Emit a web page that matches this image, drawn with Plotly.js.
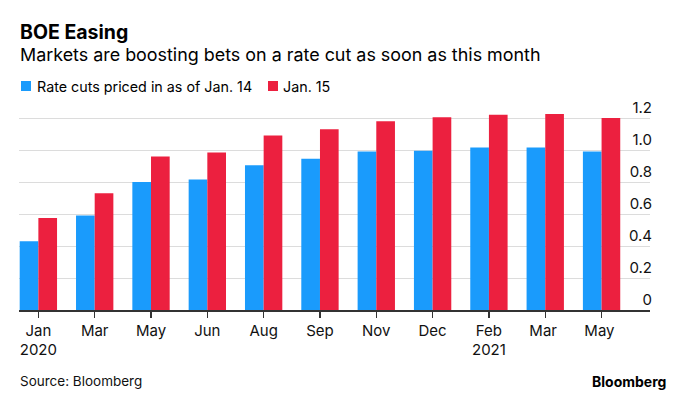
<!DOCTYPE html>
<html>
<head>
<meta charset="utf-8">
<script src="https://cdn.plot.ly/plotly-3.0.1.min.js"></script>
<style>
  html, body { margin: 0; padding: 0; background: #fff; }
  #chart { width: 680px; height: 395px; }
</style>
</head>
<body>
<div id="chart"></div>
<script>
// ---- data ----
const categories = ["Jan<br>2020", "Mar", "May", "Jun", "Aug", "Sep", "Nov", "Dec", "Feb<br>2021", "Mar ", "May "];
const seriesNames = ["Rate cuts priced in as of Jan. 14", "Jan. 15"];
const jan14 = [0.43, 0.59, 0.80, 0.815, 0.905, 0.945, 0.99, 0.995, 1.015, 1.015, 0.99];
const jan15 = [0.575, 0.73, 0.96, 0.985, 1.09, 1.13, 1.18, 1.205, 1.22, 1.225, 1.20];
const yTickVals = [0, 0.2, 0.4, 0.6, 0.8, 1.0, 1.2];
const yTickText = ["0", "0.2", "0.4", "0.6", "0.8", "1.0", "1.2"];

// ---- style ----
const BLUE = "#1a9bfc";
const RED = "#ec203f";
const FONT = "Inter, 'Liberation Sans', Arial, sans-serif";

const W = 680, H = 395;
const M = { l: 19, r: 30, t: 90, b: 85 };
const plotW = W - M.l - M.r, plotH = H - M.t - M.b;
const px2x = px => (px - M.l) / plotW;
const px2y = py => (H - M.b - py) / plotH;

const traces = [
  { type: "bar", name: seriesNames[0], x: categories, y: jan14,
    marker: { color: BLUE }, hoverinfo: "y" },
  { type: "bar", name: seriesNames[1], x: categories, y: jan15,
    marker: { color: RED }, hoverinfo: "y" }
];

const layout = {
  width: W, height: H,
  margin: M,
  paper_bgcolor: "#fff", plot_bgcolor: "#fff",
  font: { family: FONT, size: 15, color: "#000" },
  showlegend: false,
  barmode: "group",
  bargap: 0.337,
  bargroupgap: 0,
  xaxis: {
    type: "category",
    range: [-0.344, 10.86],
    showgrid: false, zeroline: false,
    showline: true, linecolor: "#333", linewidth: 1.5,
    ticks: "outside", ticklen: 6, tickwidth: 1.5, tickcolor: "#333",
    tickfont: { family: FONT, size: 15, color: "#111" },
    fixedrange: true
  },
  yaxis: {
    range: [0, plotH / 160],
    side: "right",
    tickmode: "array", tickvals: yTickVals, ticktext: yTickText,
    ticklabelposition: "inside top",
    ticklabelstandoff: -5,
    showgrid: true, gridcolor: "#dcdcdc", gridwidth: 1,
    zeroline: false, showline: false, ticks: "",
    tickfont: { family: FONT, size: 15, color: "#111" },
    fixedrange: true
  },
  shapes: [
    { type: "rect", xref: "paper", yref: "paper",
      x0: px2x(21), x1: px2x(31), y0: px2y(91), y1: px2y(81),
      fillcolor: BLUE, line: { width: 0 } },
    { type: "rect", xref: "paper", yref: "paper",
      x0: px2x(268), x1: px2x(278), y0: px2y(91), y1: px2y(81),
      fillcolor: RED, line: { width: 0 } }
  ],
  annotations: [
    { text: "<b>BOE Easing</b>",
      xref: "paper", yref: "paper", x: px2x(18), y: px2y(31.5),
      xanchor: "left", yanchor: "middle", showarrow: false,
      font: { family: FONT, size: 19.5, color: "#000" } },
    { text: "Markets are boosting bets on a rate cut as soon as this month",
      xref: "paper", yref: "paper", x: px2x(18), y: px2y(54),
      xanchor: "left", yanchor: "middle", showarrow: false,
      font: { family: FONT, size: 17.9, color: "#000" } },
    { text: seriesNames[0],
      xref: "paper", yref: "paper", x: px2x(35), y: px2y(86),
      xanchor: "left", yanchor: "middle", showarrow: false,
      font: { family: FONT, size: 14.3, color: "#000" } },
    { text: seriesNames[1],
      xref: "paper", yref: "paper", x: px2x(281), y: px2y(86),
      xanchor: "left", yanchor: "middle", showarrow: false,
      font: { family: FONT, size: 14.3, color: "#000" } },
    { text: "Source: Bloomberg",
      xref: "paper", yref: "paper", x: px2x(18), y: px2y(381),
      xanchor: "left", yanchor: "middle", showarrow: false,
      font: { family: FONT, size: 13.5, color: "#111" } },
    { text: "<b>Bloomberg</b>",
      xref: "paper", yref: "paper", x: px2x(668), y: px2y(381),
      xanchor: "right", yanchor: "middle", showarrow: false,
      font: { family: FONT, size: 14, color: "#000" } }
  ]
};

Plotly.newPlot("chart", traces, layout, { displayModeBar: false, staticPlot: true });
</script>
</body>
</html>
